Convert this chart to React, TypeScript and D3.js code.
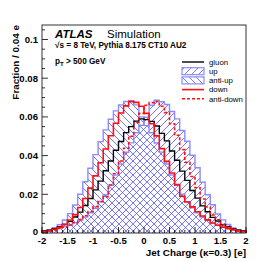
import React, { useRef, useEffect } from "react";
import * as d3 from "d3";

// fraction per bin, 40 bins from -2 to 2
const gluon = [
  0.0011, 0.0015, 0.0022, 0.0032, 0.0044, 0.006, 0.0083, 0.0108, 0.0142, 0.0178,
  0.0223, 0.0268, 0.0322, 0.0372, 0.0428, 0.0473, 0.0519, 0.055, 0.0578, 0.059,
  0.0586, 0.0577, 0.0553, 0.0515, 0.0476, 0.0424, 0.0376, 0.032, 0.0272, 0.022,
  0.018, 0.014, 0.011, 0.0081, 0.0062, 0.0043, 0.0032, 0.0021, 0.0015, 0.001,
];
const up = [
  0.0008, 0.0013, 0.0019, 0.0025, 0.0032, 0.004, 0.0053, 0.0067, 0.0082, 0.0105,
  0.0128, 0.0163, 0.0198, 0.0247, 0.0299, 0.0356, 0.0417, 0.0466, 0.0518, 0.0557,
  0.0598, 0.066, 0.0686, 0.0678, 0.0664, 0.0628, 0.059, 0.053, 0.0474, 0.0402,
  0.0337, 0.0262, 0.0198, 0.0146, 0.0098, 0.0068, 0.0044, 0.0026, 0.0017, 0.0011,
];
const antiUp = [
  0.001, 0.0016, 0.0027, 0.0043, 0.0067, 0.01, 0.0145, 0.02, 0.0265, 0.0335,
  0.0405, 0.0472, 0.0533, 0.0588, 0.0631, 0.0662, 0.068, 0.0684, 0.0662, 0.06,
  0.0555, 0.0518, 0.0465, 0.0418, 0.0357, 0.03, 0.0246, 0.02, 0.0162, 0.013,
  0.0104, 0.0083, 0.0066, 0.0052, 0.0041, 0.0032, 0.0024, 0.0018, 0.0013, 0.0009,
];
const down = [
  0.0007, 0.0012, 0.0019, 0.003, 0.0045, 0.0067, 0.0095, 0.0132, 0.0178, 0.0232,
  0.0295, 0.0363, 0.0434, 0.0503, 0.0567, 0.062, 0.0657, 0.0679, 0.0675, 0.0655,
  0.0618, 0.0565, 0.0502, 0.0436, 0.037, 0.031, 0.025, 0.019, 0.016, 0.0135,
  0.011, 0.0088, 0.0068, 0.0052, 0.004, 0.003, 0.0022, 0.0016, 0.0011, 0.0007,
];
const antiDown = [
  0.0006, 0.0011, 0.0016, 0.0023, 0.0031, 0.0041, 0.0053, 0.0069, 0.0089, 0.0111,
  0.0137, 0.0162, 0.0188, 0.0248, 0.0306, 0.0372, 0.0438, 0.05, 0.057, 0.0618,
  0.066, 0.0674, 0.068, 0.0655, 0.0622, 0.0565, 0.0505, 0.0431, 0.0366, 0.0292,
  0.0234, 0.0176, 0.0134, 0.0093, 0.0068, 0.0044, 0.0031, 0.0018, 0.0012, 0.0007,
];

const xTicks = [-2, -1.5, -1, -0.5, 0, 0.5, 1, 1.5, 2];
const xTickLabels = ["-2", "-1.5", "-1", "-0.5", "0", "0.5", "1", "1.5", "2"];
const yTicks = [0, 0.02, 0.04, 0.06, 0.08, 0.1];
const yTickLabels = ["0", "0.02", "0.04", "0.06", "0.08", "0.1"];
const legendLabels = ["gluon", "up", "anti-up", "down", "anti-down"];

const FONT = "'Liberation Sans', Arial, Helvetica, sans-serif";

const App = () => {
  const svgRef = useRef(null);

  useEffect(() => {
    const svg = d3.select(svgRef.current);
    svg.selectAll("*").remove();

    const width = 274;
    const height = 261;
    const left = 42;
    const right = 246;
    const top = 25;
    const bottom = 233;

    svg.attr("width", width).attr("height", height);

    const x = d3.scaleLinear().domain([-2, 2]).range([left, right]);
    const y = d3.scaleLinear().domain([0, 0.1075]).range([bottom, top]);

    const binW = 4 / gluon.length;
    const steps = (vals) => {
      const pts = [[-2, 0]];
      vals.forEach((v, i) => {
        pts.push([-2 + i * binW, v]);
        pts.push([-2 + (i + 1) * binW, v]);
      });
      pts.push([2, 0]);
      return pts;
    };
    const line = d3
      .line()
      .x((d) => x(d[0]))
      .y((d) => y(d[1]));

    // hatch patterns
    const defs = svg.append("defs");
    const hatch = (id, d) => {
      defs
        .append("pattern")
        .attr("id", id)
        .attr("patternUnits", "userSpaceOnUse")
        .attr("width", 7)
        .attr("height", 7)
        .append("path")
        .attr("d", d)
        .attr("stroke", "#4848ff")
        .attr("stroke-width", 0.75)
        .attr("fill", "none");
    };
    hatch("hatchUp", "M0,7 L7,0 M-1.5,1.5 L1.5,-1.5 M5.5,8.5 L8.5,5.5");
    hatch("hatchAnti", "M0,0 L7,7 M-1.5,5.5 L1.5,8.5 M5.5,-1.5 L8.5,1.5");

    svg.append("rect").attr("width", width).attr("height", height).attr("fill", "#fff");

    const plot = svg.append("g");

    // filled hatched histograms
    plot.append("path").attr("d", line(steps(up)) + "Z").attr("fill", "url(#hatchUp)");
    plot.append("path").attr("d", line(steps(antiUp)) + "Z").attr("fill", "url(#hatchAnti)");
    plot
      .append("path")
      .attr("d", line(steps(up)))
      .attr("fill", "none")
      .attr("stroke", "#8c8cff")
      .attr("stroke-width", 1.4);
    plot
      .append("path")
      .attr("d", line(steps(antiUp)))
      .attr("fill", "none")
      .attr("stroke", "#8c8cff")
      .attr("stroke-width", 1.4);

    plot
      .append("path")
      .attr("d", line(steps(gluon)))
      .attr("fill", "none")
      .attr("stroke", "#000")
      .attr("stroke-width", 1.4);
    plot
      .append("path")
      .attr("d", line(steps(down)))
      .attr("fill", "none")
      .attr("stroke", "#ff1010")
      .attr("stroke-width", 1.6);
    plot
      .append("path")
      .attr("d", line(steps(antiDown)))
      .attr("fill", "none")
      .attr("stroke", "#ff1010")
      .attr("stroke-width", 1.6)
      .attr("stroke-dasharray", "3,2");

    // frame
    svg
      .append("rect")
      .attr("x", left)
      .attr("y", top)
      .attr("width", right - left)
      .attr("height", bottom - top)
      .attr("fill", "none")
      .attr("stroke", "#333")
      .attr("stroke-width", 1);

    // y ticks
    const yMinor = d3.range(0, 0.1076, 0.005);
    svg
      .selectAll(".ymin")
      .data(yMinor)
      .enter()
      .append("line")
      .attr("x1", left)
      .attr("x2", (d) => (Math.abs(d / 0.02 - Math.round(d / 0.02)) < 1e-6 ? left + 6 : left + 3))
      .attr("y1", (d) => y(d))
      .attr("y2", (d) => y(d))
      .attr("stroke", "#000")
      .attr("stroke-width", 0.8);
    svg
      .selectAll(".ylab")
      .data(yTicks)
      .enter()
      .append("text")
      .attr("x", left - 4)
      .attr("y", (d) => y(d) - (d === 0 ? 1 : 0))
      .attr("dy", "0.35em")
      .attr("text-anchor", "end")
      .attr("font-family", FONT)
      .attr("font-weight", "bold")
      .attr("font-size", 9.6)
      .text((d, i) => yTickLabels[i]);

    // x ticks
    const xMinor = d3.range(-2, 2.001, 0.1);
    svg
      .selectAll(".xmin")
      .data(xMinor)
      .enter()
      .append("line")
      .attr("x1", (d) => x(d))
      .attr("x2", (d) => x(d))
      .attr("y1", bottom)
      .attr("y2", (d) => (Math.abs(d * 2 - Math.round(d * 2)) < 1e-6 ? bottom - 6 : bottom - 3))
      .attr("stroke", "#000")
      .attr("stroke-width", 0.8);
    svg
      .selectAll(".xlab")
      .data(xTicks)
      .enter()
      .append("text")
      .attr("x", (d) => x(d))
      .attr("y", 244)
      .attr("text-anchor", "middle")
      .attr("font-family", FONT)
      .attr("font-weight", "bold")
      .attr("font-size", 9.6)
      .text((d, i) => xTickLabels[i]);

    // axis titles
    svg
      .append("text")
      .attr("transform", `translate(18.5, ${top}) rotate(-90)`)
      .attr("text-anchor", "end")
      .attr("font-family", FONT)
      .attr("font-weight", "bold")
      .attr("font-size", 9.9)
      .text("Fraction / 0.04 e");
    svg
      .append("text")
      .attr("x", right)
      .attr("y", 255.5)
      .attr("text-anchor", "end")
      .attr("font-family", FONT)
      .attr("font-weight", "bold")
      .attr("font-size", 9.9)
      .text("Jet Charge (κ=0.3) [e]");

    // ATLAS label
    const atlas = svg
      .append("text")
      .attr("x", 55)
      .attr("y", 38)
      .attr("font-family", FONT)
      .attr("font-size", 11.5);
    atlas.append("tspan").attr("font-weight", "bold").attr("font-style", "italic").text("ATLAS");
    atlas.append("tspan").attr("x", 107).text("Simulation");
    svg
      .append("text")
      .attr("x", 55)
      .attr("y", 48)
      .attr("font-family", FONT)
      .attr("font-weight", "bold")
      .attr("font-size", 8.2)
      .text("√s = 8 TeV, Pythia 8.175 CT10 AU2");
    const pt = svg
      .append("text")
      .attr("x", 55)
      .attr("y", 64)
      .attr("font-family", FONT)
      .attr("font-weight", "bold")
      .attr("font-size", 8.2);
    pt.append("tspan").text("p");
    pt.append("tspan").attr("font-size", 6).attr("dy", 2).text("T");
    pt.append("tspan").attr("dy", -2).text(" > 500 GeV");

    // legend
    const lx0 = 182;
    const lx1 = 204;
    const ly = (i) => 62 + i * 9.2;
    const lg = svg.append("g");
    lg.append("line").attr("x1", lx0).attr("x2", lx1).attr("y1", ly(0)).attr("y2", ly(0)).attr("stroke", "#000").attr("stroke-width", 1.4);
    ["url(#hatchUp)", "url(#hatchAnti)"].forEach((f, k) => {
      lg.append("rect")
        .attr("x", lx0)
        .attr("y", ly(k + 1) - 3.5)
        .attr("width", lx1 - lx0)
        .attr("height", 7)
        .attr("fill", f)
        .attr("stroke", "#8c8cff")
        .attr("stroke-width", 1.2);
    });
    lg.append("line").attr("x1", lx0).attr("x2", lx1).attr("y1", ly(3)).attr("y2", ly(3)).attr("stroke", "#ff1010").attr("stroke-width", 1.6);
    lg.append("line")
      .attr("x1", lx0)
      .attr("x2", lx1)
      .attr("y1", ly(4))
      .attr("y2", ly(4))
      .attr("stroke", "#ff1010")
      .attr("stroke-width", 1.6)
      .attr("stroke-dasharray", "3,2");
    lg.selectAll("text")
      .data(legendLabels)
      .enter()
      .append("text")
      .attr("x", 209)
      .attr("y", (d, i) => ly(i))
      .attr("dy", "0.35em")
      .attr("font-family", FONT)
      .attr("font-size", 7.8)
      .text((d) => d);
  }, []);

  return (
    <div style={{ position: "absolute", left: 0, top: 0 }}>
      <svg ref={svgRef} style={{ display: "block" }}></svg>
    </div>
  );
};

export default App;
